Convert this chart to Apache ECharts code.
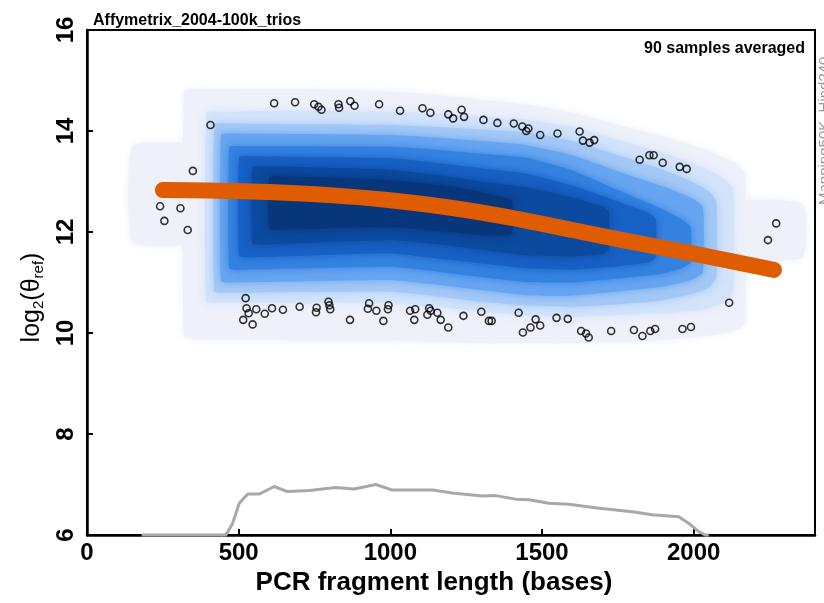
<!DOCTYPE html>
<html>
<head>
<meta charset="utf-8">
<script src="https://cdn.jsdelivr.net/npm/echarts@6/dist/echarts.min.js"></script>
<style>
  html, body { margin: 0; padding: 0; background: #fff; }
  #chart { width: 824px; height: 603px; }
</style>
</head>
<body>
<div id="chart"></div>
<script>
// density bands, outer -> inner: [fragment length, lower log2, upper log2]
const hazeLeft = [[150, 11.8, 13.7], [340, 11.8, 13.7]];
const hazeMain = [[320, 9.92, 14.78], [360, 9.88, 14.82], [700, 9.85, 14.83], [1000, 9.85, 14.78], [1150, 9.82, 14.72], [1300, 9.8, 14.62], [1450, 9.8, 14.52], [1600, 9.8, 14.36], [1750, 9.82, 14.12], [1900, 9.86, 13.89], [2050, 9.95, 13.6], [2140, 10.05, 13.35], [2170, 10.2, 13.15]];
const hazeRight = [[2150, 11.5, 12.6], [2360, 11.5, 12.55]];
const band2 = [[393, 10.62, 14.35], [430, 10.6, 14.38], [700, 10.6, 14.4], [1000, 10.59, 14.38], [1150, 10.52, 14.34], [1300, 10.43, 14.28], [1450, 10.35, 14.22], [1600, 10.32, 14.08], [1750, 10.36, 13.82], [1900, 10.39, 13.56], [2030, 10.47, 13.28], [2100, 10.6, 13.05], [2130, 10.85, 12.85]];
const band3 = [[420, 10.82, 14.13], [455, 10.8, 14.15], [1000, 10.82, 14.12], [1150, 10.73, 14.08], [1300, 10.62, 14.03], [1450, 10.55, 13.97], [1600, 10.52, 13.8], [1750, 10.57, 13.52], [1900, 10.65, 13.23], [2000, 10.78, 12.98], [2050, 10.9, 12.8], [2075, 11.1, 12.6]];
const band4 = [[442, 11.02, 13.93], [475, 11.0, 13.95], [1000, 11.05, 13.92], [1150, 10.96, 13.87], [1300, 10.85, 13.8], [1450, 10.75, 13.72], [1600, 10.74, 13.52], [1750, 10.82, 13.2], [1900, 10.92, 12.9], [1990, 11.05, 12.68], [2030, 11.2, 12.5]];
const band5 = [[469, 11.27, 13.68], [500, 11.25, 13.7], [1000, 11.31, 13.69], [1150, 11.22, 13.63], [1300, 11.11, 13.55], [1450, 11.01, 13.47], [1600, 11.0, 13.22], [1750, 11.08, 12.83], [1900, 11.18, 12.44], [1960, 11.28, 12.25], [1990, 11.4, 12.1]];
const band6 = [[502, 11.52, 13.48], [535, 11.5, 13.5], [1000, 11.58, 13.46], [1150, 11.48, 13.37], [1300, 11.38, 13.26], [1450, 11.28, 13.15], [1600, 11.25, 12.92], [1750, 11.32, 12.6], [1850, 11.4, 12.38], [1875, 11.5, 12.25]];
const band7 = [[546, 11.77, 13.28], [580, 11.75, 13.3], [1000, 11.84, 13.23], [1150, 11.76, 13.13], [1300, 11.65, 13.0], [1450, 11.54, 12.88], [1600, 11.52, 12.68], [1700, 11.57, 12.5], [1720, 11.65, 12.4]];
const band8 = [[601, 12.07, 13.08], [640, 12.05, 13.1], [1000, 12.1, 13.03], [1200, 12.0, 12.9], [1330, 11.93, 12.75], [1400, 11.95, 12.62]];

const outlierPoints = [
  [617, 14.55], [686, 14.57], [749, 14.53], [763, 14.48], [773, 14.42], [829, 14.53], [831, 14.46],
  [868, 14.59], [882, 14.5], [963, 14.53], [1032, 14.4], [1106, 14.45], [1132, 14.36], [1191, 14.33],
  [1207, 14.25], [1235, 14.42], [1243, 14.28], [1307, 14.22], [1353, 14.16], [1407, 14.15], [1435, 14.09],
  [1448, 14.0], [1455, 14.05], [1494, 13.92], [1551, 13.95], [1624, 13.99], [1635, 13.81], [1657, 13.77],
  [1672, 13.82], [1822, 13.43], [1854, 13.52], [1868, 13.52], [1898, 13.37], [1954, 13.29], [1977, 13.25],
  [407, 14.12], [349, 13.21], [241, 12.51], [308, 12.47], [255, 12.22], [332, 12.04],
  [2272, 12.17], [2245, 11.84], [2117, 10.6],
  [523, 10.69], [526, 10.49], [533, 10.39], [515, 10.26], [546, 10.17], [558, 10.47], [586, 10.38],
  [610, 10.49], [646, 10.46], [701, 10.52], [757, 10.5], [755, 10.41], [796, 10.62], [799, 10.55],
  [802, 10.47], [867, 10.26], [930, 10.59], [926, 10.48], [954, 10.44], [994, 10.55], [992, 10.47],
  [977, 10.24], [1065, 10.44], [1082, 10.47], [1079, 10.26], [1128, 10.49], [1133, 10.44], [1122, 10.36],
  [1155, 10.4], [1166, 10.26], [1191, 10.11], [1241, 10.34], [1300, 10.42], [1325, 10.24], [1334, 10.24],
  [1423, 10.4], [1437, 10.01], [1462, 10.11], [1479, 10.27], [1494, 10.15], [1548, 10.3], [1585, 10.28],
  [1629, 10.04], [1645, 9.99], [1654, 9.91], [1728, 10.04], [1803, 10.06], [1831, 9.94], [1857, 10.04],
  [1873, 10.08], [1963, 10.08], [1991, 10.12]
];

const fitCurve = [[250, 12.83], [400, 12.82], [600, 12.79], [800, 12.73], [1000, 12.63], [1200, 12.48], [1400, 12.28], [1600, 12.04], [1800, 11.8], [2000, 11.57], [2265, 11.25]];

const lengthProfile = [
  [180, 6], [458, 6], [480, 6.23], [502, 6.63], [530, 6.81], [568, 6.81], [617, 6.96], [661, 6.86],
  [733, 6.88], [820, 6.94], [881, 6.91], [952, 7.0], [1007, 6.89], [1139, 6.89], [1204, 6.83],
  [1303, 6.77], [1347, 6.78], [1413, 6.71], [1457, 6.7], [1523, 6.63], [1589, 6.61], [1688, 6.53],
  [1798, 6.46], [1863, 6.4], [1951, 6.36], [1984, 6.23], [2016, 6.07], [2038, 6], [2050, 6]
];

const FONT = "'Liberation Sans', Arial, sans-serif";

function bandSeries(band, color, blur) {
  return {
    type: 'custom',
    silent: true,
    clip: true,
    data: [0],
    renderItem: (params, api) => {
      const upper = band.map((p) => api.coord([p[0], p[2]]));
      const lower = band.slice().reverse().map((p) => api.coord([p[0], p[1]]));
      return {
        type: 'polygon',
        shape: { points: upper.concat(lower), smooth: 0.15 },
        style: { fill: color, shadowBlur: blur, shadowColor: color },
      };
    },
  };
}

const chart = echarts.init(document.getElementById('chart'));

chart.setOption({
  animation: false,
  backgroundColor: '#fff',
  title: [
    { text: 'Affymetrix_2004-100k_trios', left: 88, top: 8, textStyle: { fontFamily: FONT, fontSize: 16, fontWeight: 'bold', color: '#000' } },
    { text: '90 samples averaged', right: 14, top: 36, textStyle: { fontFamily: FONT, fontSize: 16, fontWeight: 'bold', color: '#000' } },
  ],
  graphic: [
    {
      type: 'text',
      x: 825,
      y: 205,
      rotation: Math.PI / 2,
      style: { text: 'Mapping50K_Hind240', fill: '#999', font: '15px ' + FONT, textAlign: 'left', textVerticalAlign: 'middle' },
    },
  ],
  grid: { left: 87, right: 9, top: 30, bottom: 68, show: true, borderColor: '#000', borderWidth: 2 },
  xAxis: {
    type: 'value',
    min: 0,
    max: 2400,
    interval: 500,
    name: 'PCR fragment length (bases)',
    nameLocation: 'middle',
    nameGap: 32,
    nameTextStyle: { fontFamily: FONT, fontSize: 26, fontWeight: 'bold', color: '#000', padding: [0, 34, 0, 0] },
    axisLine: { lineStyle: { color: '#000', width: 2.5 } },
    axisTick: { inside: true, length: 6, lineStyle: { color: '#000', width: 2 } },
    axisLabel: { fontFamily: FONT, fontSize: 24, fontWeight: 'bold', color: '#000', margin: 6, showMaxLabel: false, formatter: (v) => String(v) },
    splitLine: { show: false },
  },
  yAxis: {
    type: 'value',
    min: 6,
    max: 16,
    interval: 2,
    name: '{n|log}{s|2}{n|(θ}{s|ref}{n|)}',
    nameLocation: 'middle',
    nameGap: 36,
    nameTextStyle: {
      color: '#000',
      padding: [0, 0, 0, -30],
      rich: {
        n: { fontFamily: FONT, fontSize: 25, color: '#000', lineHeight: 28 },
        s: { fontFamily: FONT, fontSize: 15, color: '#000', lineHeight: 16, verticalAlign: 'bottom' },
      },
    },
    axisLine: { lineStyle: { color: '#000', width: 2.5 } },
    axisTick: { inside: true, length: 6, lineStyle: { color: '#000', width: 2 } },
    axisLabel: { fontFamily: FONT, fontSize: 24, fontWeight: 'bold', color: '#000', rotate: 90, margin: 9 },
    splitLine: { show: false },
  },
  series: [
    bandSeries(hazeLeft, '#eef0fa', 8),
    bandSeries(hazeMain, '#eef0fa', 8),
    bandSeries(hazeRight, '#eef0fa', 8),
    bandSeries(band2, '#d2e3fa', 8),
    bandSeries(band3, '#a4c8f6', 8),
    bandSeries(band4, '#67a5f0', 8),
    bandSeries(band5, '#3482e0', 8),
    bandSeries(band6, '#1760c4', 8),
    bandSeries(band7, '#0b4a9f', 8),
    bandSeries(band8, '#08367a', 8),
    {
      type: 'line',
      data: fitCurve,
      smooth: 0.3,
      showSymbol: false,
      silent: true,
      lineStyle: { color: '#e05c00', width: 16, cap: 'round', join: 'round' },
      z: 4,
    },
    {
      type: 'scatter',
      data: outlierPoints,
      symbol: 'circle',
      symbolSize: 7,
      silent: true,
      itemStyle: { color: 'rgba(0,0,0,0)', borderColor: '#000', borderWidth: 1.6 },
      z: 5,
    },
    {
      type: 'line',
      data: lengthProfile,
      showSymbol: false,
      silent: true,
      clip: false,
      lineStyle: { color: '#a8a8a8', width: 3 },
      z: 6,
    },
  ],
});
</script>
</body>
</html>
